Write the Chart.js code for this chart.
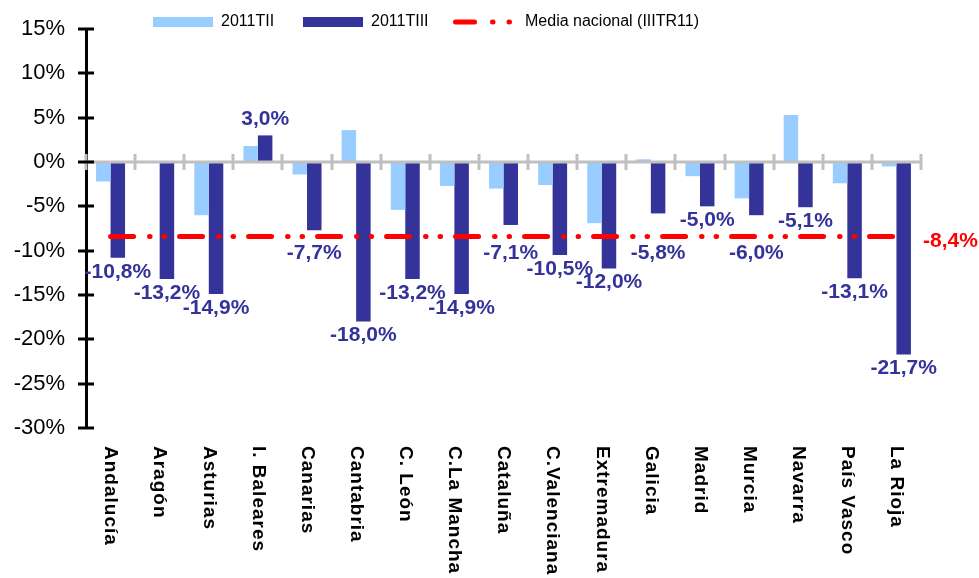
<!DOCTYPE html>
<html>
<head>
<meta charset="utf-8">
<script src="https://cdn.jsdelivr.net/npm/chart.js@4"></script>
<style>
  html, body { margin: 0; padding: 0; background: #fff; }
  canvas { display: block; }
</style>
</head>
<body>
<canvas id="chart" width="979" height="578"></canvas>
<script>
// data
var regiones = ['Andalucía', 'Aragón', 'Asturias', 'I. Baleares', 'Canarias', 'Cantabria', 'C. León',
  'C.La Mancha', 'Cataluña', 'C.Valenciana', 'Extremadura', 'Galicia', 'Madrid', 'Murcia',
  'Navarra', 'País Vasco', 'La Rioja'];
var serie2011TII = [-2.2, 0.0, -6.0, 1.8, -1.4, 3.6, -5.4, -2.7, -3.0, -2.6, -6.9, 0.3, -1.6, -4.1, 5.3, -2.4, -0.5];
var serie2011TIII = [-10.8, -13.2, -14.9, 3.0, -7.7, -18.0, -13.2, -14.9, -7.1, -10.5, -12.0, -5.8, -5.0, -6.0, -5.1, -13.1, -21.7];
var mediaNacional = [-8.4, -8.4, -8.4, -8.4, -8.4, -8.4, -8.4, -8.4, -8.4, -8.4, -8.4, -8.4, -8.4, -8.4, -8.4, -8.4, -8.4];
var yTicks = { min: -30, max: 15, step: 5 };

var FONT = 'Arial, "Liberation Sans", sans-serif';
var LIGHT = '#99ccff';
var DARK = '#333399';
var RED = '#ff0000';

function fmt(v) {
  return v.toFixed(1).replace('.', ',') + '%';
}

// axes, labels and legend drawn by hand to match the excel look
var decor = {
  id: 'decor',
  afterDatasetsDraw: function(chart) {
    var ctx = chart.ctx;
    var area = chart.chartArea;
    var xs = chart.scales.x;
    var ys = chart.scales.y;
    var y0 = ys.getPixelForValue(0);
    var catW = (area.right - area.left) / regiones.length;

    ctx.save();

    // grey zero axis with crossing ticks
    ctx.strokeStyle = '#c0c0c0';
    ctx.lineWidth = 3;
    ctx.beginPath();
    ctx.moveTo(area.left, y0);
    ctx.lineTo(area.right, y0);
    for (var i = 0; i <= regiones.length; i++) {
      var tx = Math.round(area.left + i * catW);
      ctx.moveTo(tx, y0 - 8);
      ctx.lineTo(tx, y0 + 8);
    }
    ctx.stroke();

    // black y ticks crossing the axis
    ctx.strokeStyle = '#000';
    ctx.beginPath();
    for (var v = yTicks.min; v <= yTicks.max; v += yTicks.step) {
      var ty = Math.round(ys.getPixelForValue(v));
      ctx.moveTo(area.left - 8, ty);
      ctx.lineTo(area.left + 8, ty);
    }
    ctx.stroke();

    // value labels of 2011TIII
    var lineY = ys.getPixelForValue(mediaNacional[0]);
    var meta = chart.getDatasetMeta(1);
    ctx.font = 'bold 21px ' + FONT;
    ctx.fillStyle = DARK;
    ctx.textAlign = 'center';
    ctx.textBaseline = 'middle';
    meta.data.forEach(function(bar, idx) {
      var val = serie2011TIII[idx];
      var ly;
      if (val >= 0) {
        ly = bar.y - 16;
      } else {
        ly = bar.y + 14;
        if (Math.abs(ly - lineY) < 12) ly = lineY + 17;
      }
      ctx.fillText(fmt(val), bar.x, ly);
    });

    // national average label on the right
    ctx.fillStyle = RED;
    ctx.textAlign = 'left';
    ctx.fillText(fmt(mediaNacional[mediaNacional.length - 1]), area.right + 2, lineY + 5);

    // category labels, rotated clockwise
    ctx.font = 'bold 19px ' + FONT;
    ctx.fillStyle = '#000';
    ctx.textAlign = 'left';
    ctx.textBaseline = 'middle';
    if ('letterSpacing' in ctx) ctx.letterSpacing = '1px';
    regiones.forEach(function(name, idx) {
      var cx = xs.getPixelForValue(idx);
      ctx.save();
      ctx.translate(cx, area.bottom + 18);
      ctx.rotate(Math.PI / 2);
      ctx.fillText(name, 0, 0);
      ctx.restore();
    });
    if ('letterSpacing' in ctx) ctx.letterSpacing = '0px';

    // legend
    var legY = 22;
    ctx.font = '16px ' + FONT;
    ctx.fillStyle = LIGHT;
    ctx.fillRect(153, legY - 5, 60, 10);
    ctx.fillStyle = DARK;
    ctx.fillRect(303, legY - 5, 60, 10);
    ctx.fillStyle = '#000';
    ctx.fillText('2011TII', 221, legY);
    ctx.fillText('2011TIII', 371, legY);
    ctx.strokeStyle = RED;
    ctx.lineWidth = 5;
    ctx.lineCap = 'round';
    ctx.setLineDash([19, 18, 0.5, 16, 0.5, 30]);
    ctx.beginPath();
    ctx.moveTo(455.5, legY);
    ctx.lineTo(511, legY);
    ctx.stroke();
    ctx.setLineDash([]);
    ctx.fillText('Media nacional (IIITR11)', 525, legY);

    ctx.restore();
  }
};

var ctx = document.getElementById('chart').getContext('2d');
var chart = new Chart(ctx, {
  type: 'bar',
  data: {
    labels: regiones,
    datasets: [
      {
        label: '2011TII',
        data: serie2011TII,
        backgroundColor: LIGHT,
        categoryPercentage: 0.59,
        barPercentage: 1.0,
        order: 2
      },
      {
        label: '2011TIII',
        data: serie2011TIII,
        backgroundColor: DARK,
        categoryPercentage: 0.59,
        barPercentage: 1.0,
        order: 2
      },
      {
        type: 'line',
        label: 'Media nacional (IIITR11)',
        data: mediaNacional,
        borderColor: RED,
        borderWidth: 5,
        borderDash: [23, 16, 0.5, 14, 0.5, 15],
        borderCapStyle: 'round',
        pointRadius: 0,
        fill: false,
        order: 0
      }
    ]
  },
  options: {
    responsive: false,
    devicePixelRatio: 1,
    animation: false,
    layout: { padding: { top: 29, right: 58, left: 0, bottom: 0 } },
    plugins: {
      legend: { display: false },
      tooltip: { enabled: false }
    },
    scales: {
      x: {
        type: 'category',
        ticks: { display: false },
        grid: { display: false },
        border: { display: false },
        afterFit: function(scale) { scale.height = 150; }
      },
      y: {
        min: yTicks.min,
        max: yTicks.max,
        ticks: {
          stepSize: yTicks.step,
          color: '#000',
          padding: 21,
          font: { family: FONT, size: 22 },
          callback: function(v) { return v + '%'; }
        },
        grid: { display: false, drawTicks: false },
        border: { display: true, color: '#000', width: 3 },
        afterFit: function(scale) {
          scale.width = 86;
          scale.paddingTop = 0;
          scale.paddingBottom = 0;
        }
      }
    }
  },
  plugins: [decor]
});
console.log(JSON.stringify(chart.chartArea));
</script>
</body>
</html>
